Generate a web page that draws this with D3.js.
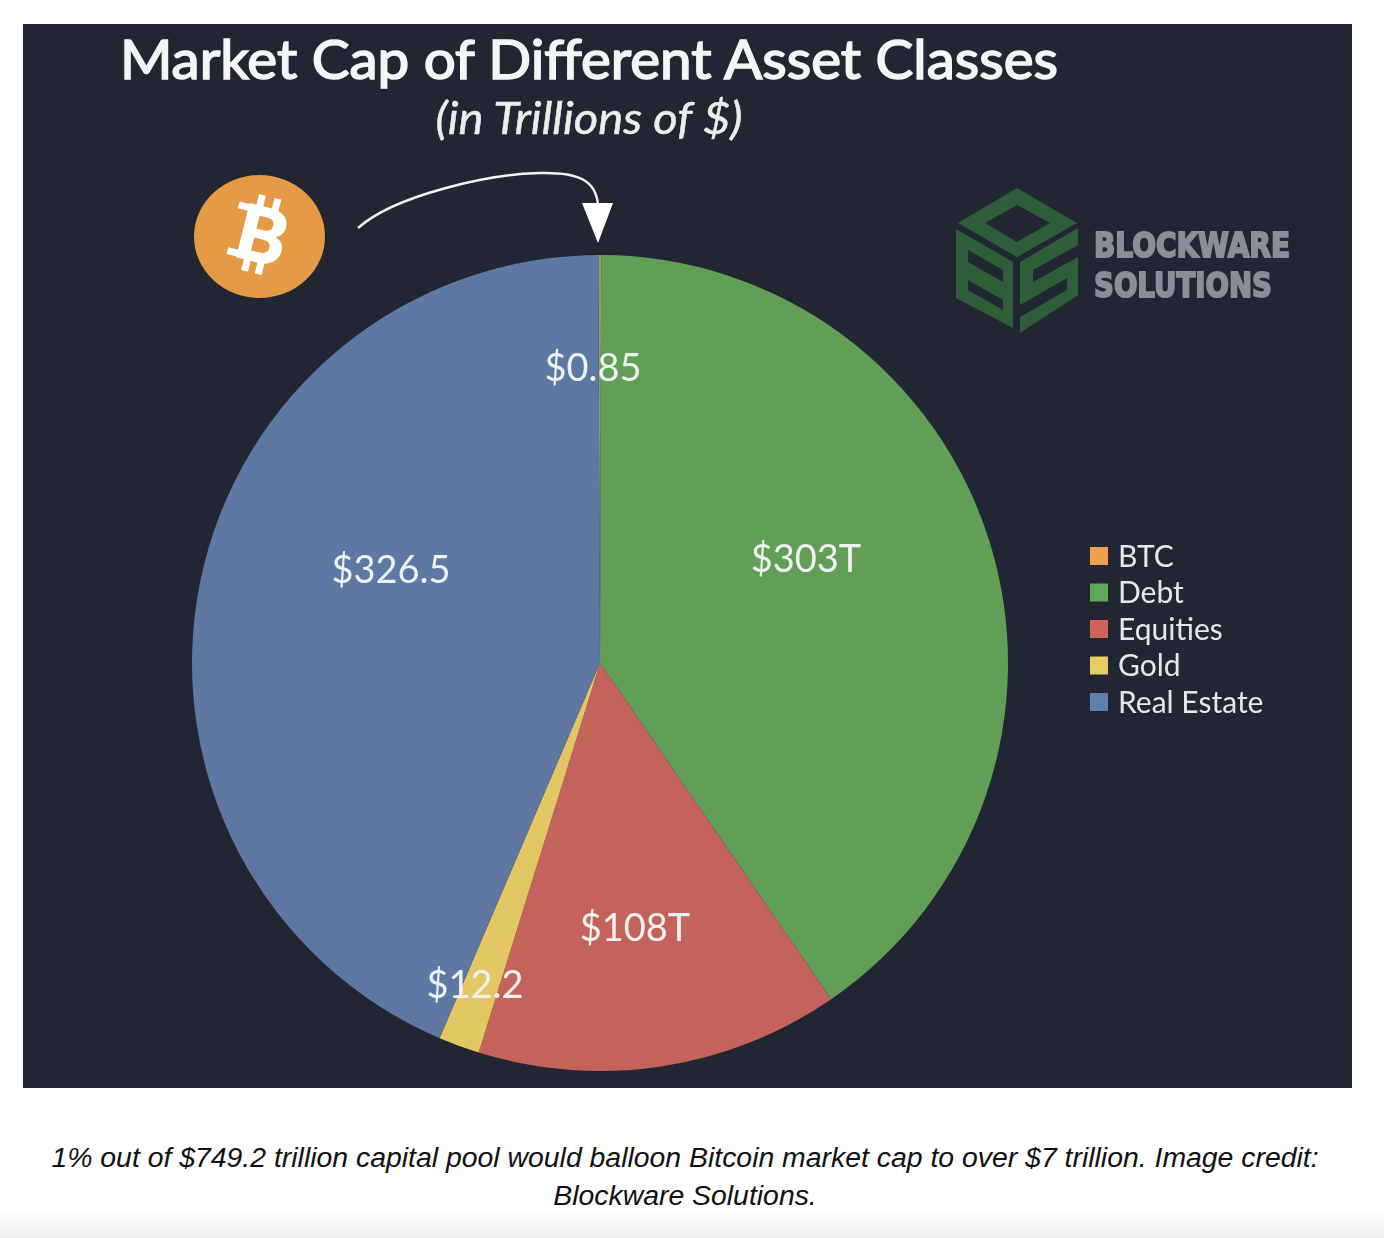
<!DOCTYPE html>
<html>
<head>
<meta charset="utf-8">
<script src="https://cdn.jsdelivr.net/npm/d3@7"></script>
<style>
  html, body { margin: 0; padding: 0; background: #fff; }
  svg { display: block; }
  text { font-family: Lato, sans-serif; }
</style>
</head>
<body>
<svg id="chart" width="1384" height="1238"></svg>
<script>
// data, clockwise from 12 o'clock (BTC is the hairline sliver at the top)
const categories = ["BTC", "Debt", "Equities", "Gold", "Real Estate"];
const values = [0.85, 303, 108, 12.2, 326.5];
const valueLabels = ["$0.85", "$303T", "$108T", "$12.2", "$326.5"];
// the BTC sliver reads as a pale seam in the picture, not as legend orange
const sliceColors = ["#86a368", "#629f57", "#c4635c", "#e3c765", "#5e77a3"];
const legendColors = ["#ed9f4c", "#5fa957", "#d0625c", "#e8cd62", "#5f7fae"];

// hand placed in the original, they don't sit on the slice centroids
const labelPos = [[593, 368], [806, 559], [635, 928], [475, 985], [391, 570]];

const svg = d3.select("#chart");
const defs = svg.append("defs");

const fade = defs.append("linearGradient").attr("id", "fade")
    .attr("x1", 0).attr("y1", 0).attr("x2", 0).attr("y2", 1);
fade.append("stop").attr("offset", "0%").attr("stop-color", "#ffffff");
fade.append("stop").attr("offset", "100%").attr("stop-color", "#eeeeee");

// the source is a soft, upscaled screenshot
defs.append("filter").attr("id", "soft")
    .append("feGaussianBlur").attr("stdDeviation", 0.7);

svg.append("rect").attr("y", 1208).attr("width", 1384).attr("height", 30).attr("fill", "url(#fade)");
const panel = svg.append("g").attr("filter", "url(#soft)");
panel.append("rect").attr("x", 23).attr("y", 24).attr("width", 1329).attr("height", 1064).attr("fill", "#222732");

// title
panel.append("text").attr("x", 589).attr("y", 79).attr("text-anchor", "middle")
    .attr("font-size", 54).attr("fill", "#f4f5f6")
    .attr("stroke", "#f4f5f6").attr("stroke-width", 1.6)
    .attr("textLength", 938).attr("lengthAdjust", "spacingAndGlyphs")
    .text("Market Cap of Different Asset Classes");
panel.append("text").attr("x", 589).attr("y", 134).attr("text-anchor", "middle")
    .attr("font-size", 45).attr("font-style", "italic").attr("fill", "#eceded")
    .attr("stroke", "#eceded").attr("stroke-width", 0.5)
    .attr("textLength", 307).attr("lengthAdjust", "spacingAndGlyphs")
    .text("(in Trillions of $)");

// pie
const cx = 600, cy = 663, radius = 408;
const color = d3.scaleOrdinal().domain(categories).range(sliceColors);
const btcAngle = values[0] / d3.sum(values) * 2 * Math.PI;
const startAngle = -btcAngle * 0.6;
const pie = d3.pie().sort(null).startAngle(startAngle).endAngle(startAngle + 2 * Math.PI);
const arc = d3.arc().innerRadius(0).outerRadius(radius);
const arcs = pie(values);

const pieGroup = panel.append("g").attr("transform", `translate(${cx},${cy})`);
pieGroup.selectAll("path")
    .data(arcs)
    .join("path")
    .attr("d", arc)
    .attr("fill", (d, i) => color(categories[i]));

panel.append("g").selectAll("text")
    .data(valueLabels)
    .join("text")
    .attr("x", (d, i) => labelPos[i][0])
    .attr("y", (d, i) => labelPos[i][1])
    .attr("dy", "0.35em")
    .attr("text-anchor", "middle")
    .attr("font-size", 38)
    .attr("fill", "#eef0f1")
    .text(d => d);

// legend
const legendY = d3.scalePoint().domain(categories).range([556, 702]);
const legend = panel.append("g").selectAll("g")
    .data(categories)
    .join("g")
    .attr("transform", d => `translate(1090,${legendY(d)})`);
legend.append("rect")
    .attr("y", -9).attr("width", 18).attr("height", 18)
    .attr("fill", (d, i) => legendColors[i]);
legend.append("text")
    .attr("x", 28).attr("dy", "0.36em")
    .attr("font-size", 30).attr("fill", "#e6e7e9")
    .text(d => d);

// bitcoin badge
const coin = panel.append("g");
coin.append("ellipse").attr("cx", 259.5).attr("cy", 236.5).attr("rx", 65.5).attr("ry", 61.5).attr("fill", "#e59a45");
const glyph = coin.append("g").attr("transform", "translate(262,236) rotate(14)").attr("fill", "#fff");
[[-13, -40, 7, 14], [3, -40, 7, 14], [-12, 24, 7, 14], [2, 24, 7, 14], [-30, -28, 17, 7], [-30, 19, 17, 7]].forEach(p => {
    glyph.append("rect").attr("x", p[0]).attr("y", p[1]).attr("width", p[2]).attr("height", p[3]);
});
glyph.append("text").attr("x", 0).attr("y", 26).attr("text-anchor", "middle")
    .attr("font-size", 75).attr("font-weight", 900).attr("fill", "#fff")
    .attr("stroke", "#fff").attr("stroke-width", 1.5).text("B");

// arrow
panel.append("path")
    .attr("d", "M358,228 C395,195 490,174 540,173 C578,172 596,180 598,205")
    .attr("fill", "none").attr("stroke", "#f1f2f3").attr("stroke-width", 2.5);
panel.append("path").attr("d", "M582,203 L613,203 L598,243 Z").attr("fill", "#fff");

// blockware logo
const logo = panel.append("g").attr("fill", "#2f5f38").attr("fill-rule", "evenodd");
logo.append("path").attr("d", "M1017,188 L1077,223 L1017,257 L958,223 Z M1017,205 L985,223 L1017,242 L1050,223 Z");
logo.append("path").attr("d", "M956,229 L1013,262 L1013,328 L956,298 Z M968,250 L1003,270 L1003,282 L968,262 Z M968,280 L1003,300 L1003,310 L968,290 Z");
logo.append("path").attr("d", "M1020,262 L1078,228 L1078,245 L1033,270 L1033,282 L1078,257 L1078,295 L1020,333 L1020,317 L1067,290 L1067,278 L1020,305 Z");

const wordmarkLines = ["BLOCKWARE", "SOLUTIONS"];
const wordmarkWidths = [196, 178];
panel.append("g").selectAll("text")
    .data(wordmarkLines)
    .join("text")
    .attr("x", 1094)
    .attr("y", (d, i) => 257 + i * 39.5)
    .attr("font-size", 33.5).attr("font-weight", 700).attr("fill", "#8b8e99")
    .attr("stroke", "#8b8e99").attr("stroke-width", 2)
    .attr("textLength", (d, i) => wordmarkWidths[i]).attr("lengthAdjust", "spacingAndGlyphs")
    .style("font-family", "'DejaVu Sans', sans-serif")
    .text(d => d);

// caption below the image
const captionLines = [
    "1% out of $749.2 trillion capital pool would balloon Bitcoin market cap to over $7 trillion. Image credit:",
    "Blockware Solutions."
];
svg.append("g").selectAll("text")
    .data(captionLines)
    .join("text")
    .attr("x", 685)
    .attr("y", (d, i) => 1167 + i * 38)
    .attr("text-anchor", "middle")
    .attr("font-size", 28.4)
    .attr("font-style", "italic")
    .attr("fill", "#111")
    .style("font-family", "'Liberation Sans', sans-serif")
    .text(d => d);
</script>
</body>
</html>
